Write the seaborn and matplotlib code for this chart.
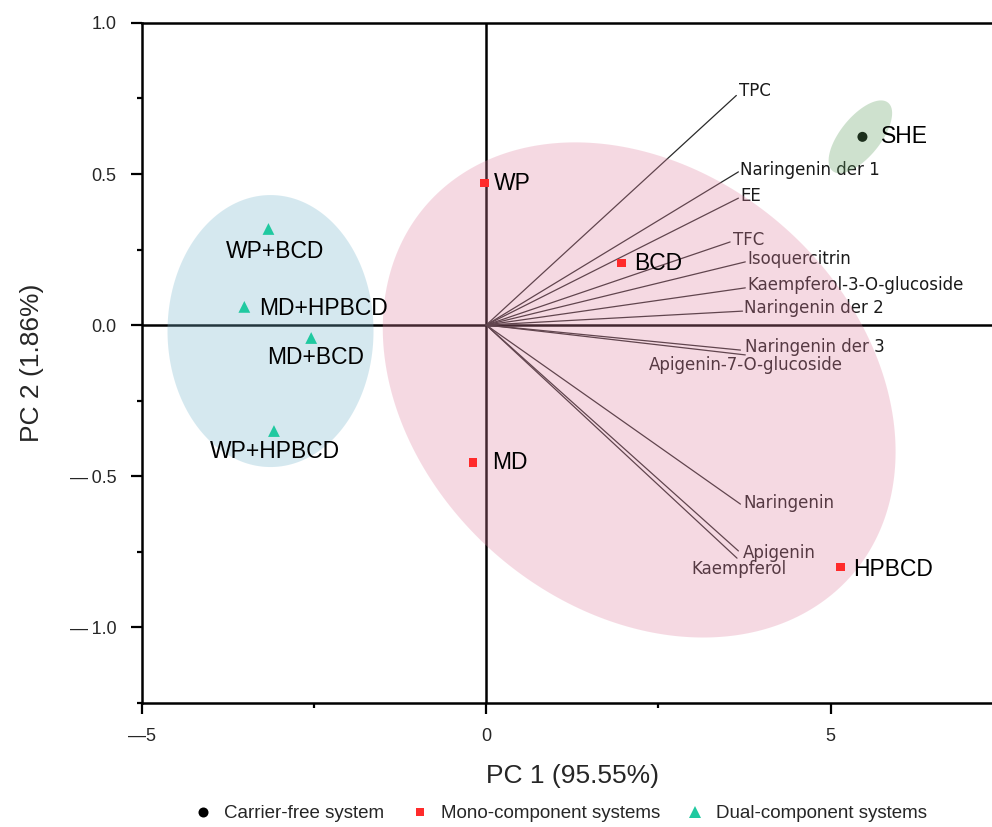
import numpy as np
import pandas as pd
import matplotlib
matplotlib.use("Agg")
import matplotlib.pyplot as plt
from matplotlib.patches import Polygon
from matplotlib.ticker import MultipleLocator, FuncFormatter
import seaborn as sns

# Sample scores on the first two principal components
samples = ["SHE", "WP", "BCD", "MD", "HPBCD",
           "WP+BCD", "MD+HPBCD", "MD+BCD", "WP+HPBCD"]
groups = (["Carrier-free system"]
          + ["Mono-component systems"] * 4
          + ["Dual-component systems"] * 4)
pc1 = [5.46, -0.03, 1.96, -0.19, 5.14, -3.16, -3.51, -2.54, -3.08]
pc2 = [0.623, 0.470, 0.205, -0.454, -0.801, 0.318, 0.060, -0.043, -0.351]

# Variable loadings (scaled to the score space)
variables = ["TPC", "Naringenin der 1", "EE", "TFC", "Isoquercitrin",
             "Kaempferol-3-O-glucoside", "Naringenin der 2", "Naringenin der 3",
             "Apigenin-7-O-glucoside", "Naringenin", "Apigenin", "Kaempferol"]
load1 = [3.63, 3.66, 3.66, 3.54, 3.76, 3.76, 3.72, 3.69, 3.76, 3.69, 3.66, 3.64]
load2 = [0.760, 0.507, 0.420, 0.275, 0.209, 0.123, 0.046, -0.083, -0.099,
         -0.593, -0.748, -0.772]

group_order = ["Carrier-free system", "Mono-component systems", "Dual-component systems"]
palette = {"Carrier-free system": "#000000",
           "Mono-component systems": "#ff2b2b",
           "Dual-component systems": "#20c9a0"}
markers = {"Carrier-free system": "o",
           "Mono-component systems": "s",
           "Dual-component systems": "^"}
sizes = {"Carrier-free system": 52,
         "Mono-component systems": 40,
         "Dual-component systems": 72}

scores = pd.DataFrame({"sample": samples, "group": groups, "PC1": pc1, "PC2": pc2})

sns.set_style("ticks")
plt.rcParams["font.family"] = ["Liberation Sans", "DejaVu Sans"]

fig = plt.figure(figsize=(9.92, 8.27), dpi=100)
ax = fig.add_axes([0.1428, 0.1505, 0.8683, 0.8217])
ax.set_xlim(-5, 7.5)
ax.set_ylim(-1.25, 1.0)

# zero reference lines
ax.axhline(0, color="black", lw=1.8, zorder=1.5)
ax.axvline(0, color="black", lw=1.8, zorder=1.5)

# loading vectors and their labels (offsets in points, alignment)
label_place = [(2, 3, "left"), (1.5, 1.5, "left"), (1.5, 1.5, "left"),
               (2, 1.5, "left"), (1.5, 2, "left"), (1.5, 2, "left"),
               (1, 2, "left"), (3, 2, "left"), (0.5, -7, "center"),
               (2, 0.5, "left"), (3, -1.5, "left"), (1.5, -7.5, "center")]
for name, lx, ly, (dx, dy, ha) in zip(variables, load1, load2, label_place):
    ax.plot([0, lx], [0, ly], color="#2a2a2a", lw=0.9, zorder=2)
    ax.annotate(name, (lx, ly), xytext=(dx, dy), textcoords="offset points",
                ha=ha, va="center", fontsize=12, color="#1a1a1a",
                family=["DejaVu Sans"], zorder=2)


def add_ellipse(center, a_px, b_px, angle_deg, color, z):
    """Shaded group region defined in screen pixels around a data centre."""
    t = np.linspace(0, 2 * np.pi, 300)
    th = np.deg2rad(angle_deg)
    cx, cy = ax.transData.transform(center)
    x = cx + a_px * np.cos(t) * np.cos(th) - b_px * np.sin(t) * np.sin(th)
    y = cy + a_px * np.cos(t) * np.sin(th) + b_px * np.sin(t) * np.cos(th)
    pts = ax.transData.inverted().transform(np.column_stack([x, y]))
    ax.add_patch(Polygon(pts, closed=True, facecolor=color, edgecolor="none",
                         alpha=0.3, zorder=z))


add_ellipse((2.22, -0.215), 282, 218, -41, "#e184a2", 3)
add_ellipse((-3.13, -0.02), 103, 136, 0, "#76b6cd", 3)

sns.scatterplot(data=scores, x="PC1", y="PC2", hue="group", style="group",
                size="group", hue_order=group_order, style_order=group_order,
                size_order=group_order, palette=palette, markers=markers,
                sizes=sizes, linewidth=0, ax=ax, zorder=4)

add_ellipse((5.43, 0.623), 44, 20, 51, "#5f9e5f", 4.5)

# sample labels (offset in points, alignment)
sample_place = [(13, 0, "left"), (7, 0, "left"), (9, 0, "left"),
                (14, 0, "left"), (9, -2, "left"), (5, -16, "center"),
                (11, -1, "left"), (3, -14, "center"), (1, -15, "center")]
for s, x, y, (dx, dy, ha) in zip(samples, pc1, pc2, sample_place):
    ax.annotate(s, (x, y), xytext=(dx, dy), textcoords="offset points",
                ha=ha, va="center", fontsize=16.5, color="black", zorder=6)


def fmt_x(v, pos):
    txt = f"{abs(v):.0f}"
    return ("\u2014" + txt) if v < -1e-9 else txt


def fmt_y(v, pos):
    txt = f"{abs(v):.1f}"
    return ("\u2014\u2009" + txt) if v < -1e-9 else txt


ax.xaxis.set_major_locator(MultipleLocator(5))
ax.xaxis.set_minor_locator(MultipleLocator(2.5))
ax.yaxis.set_major_locator(MultipleLocator(0.5))
ax.yaxis.set_minor_locator(MultipleLocator(0.25))
ax.xaxis.set_major_formatter(FuncFormatter(fmt_x))
ax.yaxis.set_major_formatter(FuncFormatter(fmt_y))
ax.tick_params(axis="both", which="major", direction="out", length=8,
               width=1.6, labelsize=13, color="black")
ax.tick_params(axis="both", which="minor", direction="out", length=3.5,
               width=1.6, color="black")
ax.tick_params(axis="x", which="major", pad=10)
ax.tick_params(axis="y", which="major", pad=10)
for sp in ax.spines.values():
    sp.set_linewidth(1.8)
    sp.set_color("black")
    sp.set_visible(True)

ax.set_xlabel("PC 1 (95.55%)", fontsize=19, labelpad=14)
ax.set_ylabel("PC 2 (1.86%)", fontsize=19, labelpad=19)

sns.move_legend(ax, "center", bbox_to_anchor=(0.565, 0.016),
                bbox_transform=fig.transFigure, ncol=3, frameon=False,
                title=None, fontsize=13.5, handlelength=1.0,
                handletextpad=0.62, columnspacing=1.4)

fig.savefig("out.png", dpi=100)
